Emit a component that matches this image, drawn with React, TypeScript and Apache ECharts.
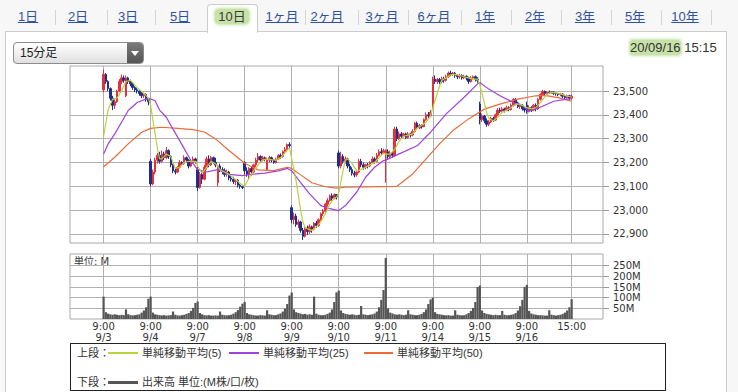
import React, { useEffect, useRef } from 'react';
import * as echarts from 'echarts';

// ---------- data ----------
const dayLabels = ['9/3', '9/4', '9/7', '9/8', '9/9', '9/10', '9/11', '9/14', '9/15', '9/16'];
const barTimes = ['9:00', '9:15', '9:30', '9:45', '10:00', '10:15', '10:30', '10:45', '11:00', '11:15',
  '12:30', '12:45', '13:00', '13:15', '13:30', '13:45', '14:00', '14:15', '14:30', '14:45', '15:00'];
const priceTicks = [22900, 23000, 23100, 23200, 23300, 23400, 23500];
const volumeTicks = [50, 100, 150, 200, 250];

// [open, close, low, high]
const d0903 = [
  [23505, 23570, 23495, 23590], [23570, 23540, 23530, 23575], [23540, 23510, 23500, 23545], [23510, 23470, 23460, 23515],
  [23470, 23440, 23420, 23480], [23440, 23455, 23425, 23465], [23455, 23500, 23450, 23505], [23500, 23540, 23495, 23550],
  [23540, 23555, 23530, 23570], [23555, 23545, 23535, 23565], [23480, 23555, 23475, 23565], [23555, 23540, 23530, 23560],
  [23540, 23530, 23520, 23548], [23530, 23515, 23505, 23535], [23515, 23505, 23495, 23520], [23505, 23500, 23490, 23512],
  [23500, 23490, 23480, 23505], [23490, 23480, 23470, 23498], [23480, 23485, 23470, 23490], [23485, 23465, 23455, 23490],
  [23465, 23455, 23440, 23470],
];
const d0904 = [
  [23205, 23110, 23100, 23215], [23110, 23160, 23105, 23170], [23160, 23210, 23150, 23220], [23210, 23230, 23195, 23240],
  [23230, 23205, 23195, 23245], [23205, 23235, 23200, 23250], [23235, 23220, 23210, 23245], [23220, 23250, 23215, 23265],
  [23250, 23225, 23215, 23255], [23225, 23190, 23180, 23230], [23190, 23165, 23155, 23195], [23165, 23160, 23150, 23175],
  [23160, 23180, 23155, 23185], [23180, 23200, 23175, 23210], [23200, 23195, 23185, 23205], [23195, 23220, 23190, 23230],
  [23220, 23210, 23200, 23225], [23210, 23185, 23175, 23215], [23185, 23200, 23180, 23210], [23200, 23215, 23195, 23225],
  [23215, 23205, 23195, 23220],
];
const d0907 = [
  [23170, 23095, 23080, 23180], [23095, 23150, 23090, 23160], [23150, 23130, 23110, 23165], [23130, 23180, 23125, 23190],
  [23180, 23215, 23170, 23225], [23215, 23190, 23180, 23230], [23190, 23220, 23185, 23228], [23220, 23200, 23195, 23225],
  [23200, 23190, 23180, 23220], [23115, 23185, 23100, 23190], [23185, 23170, 23160, 23195], [23170, 23165, 23150, 23180],
  [23165, 23150, 23140, 23175], [23150, 23160, 23140, 23170], [23160, 23135, 23125, 23165], [23135, 23130, 23120, 23145],
  [23130, 23120, 23110, 23140], [23120, 23125, 23105, 23130], [23125, 23105, 23095, 23130], [23105, 23100, 23090, 23110],
  [23100, 23095, 23088, 23105],
];
const d0908 = [
  [23200, 23165, 23150, 23205], [23165, 23150, 23140, 23180], [23150, 23175, 23130, 23180], [23175, 23160, 23145, 23185],
  [23160, 23190, 23155, 23195], [23190, 23210, 23180, 23220], [23210, 23225, 23200, 23240], [23225, 23210, 23200, 23230],
  [23210, 23220, 23205, 23228], [23220, 23215, 23205, 23225], [23170, 23210, 23165, 23220], [23210, 23220, 23200, 23228],
  [23220, 23210, 23200, 23225], [23210, 23200, 23195, 23215], [23200, 23215, 23195, 23220], [23215, 23230, 23210, 23235],
  [23230, 23225, 23215, 23238], [23225, 23245, 23220, 23250], [23245, 23255, 23240, 23265], [23255, 23275, 23250, 23280],
  [23275, 23270, 23260, 23285],
];
const d0909 = [
  [23010, 22960, 22945, 23020], [22960, 22975, 22940, 22990], [22975, 22940, 22930, 22985], [22940, 22950, 22925, 22960],
  [22950, 22915, 22905, 22955], [22915, 22890, 22875, 22925], [22890, 22925, 22885, 22935], [22925, 22910, 22895, 22935],
  [22910, 22930, 22900, 22940], [22930, 22920, 22905, 22935], [22920, 22945, 22915, 22950], [22945, 22935, 22925, 22955],
  [22935, 22960, 22930, 22965], [22960, 22985, 22955, 22990], [22985, 22995, 22975, 23005], [22995, 23025, 22990, 23030],
  [23025, 23040, 23015, 23050], [23040, 23060, 23035, 23065], [23060, 23050, 23040, 23070], [23050, 23065, 23045, 23070],
  [23065, 23055, 23045, 23068],
];
const d0910 = [
  [23240, 23185, 23175, 23250], [23185, 23225, 23175, 23245], [23225, 23205, 23195, 23235], [23205, 23215, 23195, 23225],
  [23215, 23185, 23175, 23220], [23185, 23170, 23160, 23195], [23170, 23155, 23145, 23180], [23155, 23148, 23138, 23165],
  [23148, 23160, 23140, 23170], [23160, 23205, 23155, 23215], [23205, 23190, 23180, 23215], [23190, 23180, 23170, 23200],
  [23180, 23190, 23172, 23195], [23190, 23185, 23175, 23198], [23185, 23200, 23180, 23205], [23200, 23215, 23195, 23225],
  [23215, 23205, 23195, 23222], [23205, 23230, 23200, 23240], [23230, 23245, 23225, 23255], [23245, 23240, 23230, 23260],
  [23240, 23250, 23235, 23258],
];
const d0911 = [
  [23235, 23250, 23115, 23255], [23245, 23225, 23215, 23255], [23225, 23240, 23215, 23250], [23240, 23230, 23220, 23248],
  [23230, 23340, 23225, 23350], [23340, 23300, 23290, 23350], [23300, 23320, 23295, 23330], [23320, 23310, 23300, 23328],
  [23310, 23320, 23305, 23325], [23320, 23305, 23298, 23325], [23305, 23320, 23300, 23328], [23320, 23315, 23305, 23325],
  [23315, 23330, 23310, 23340], [23330, 23365, 23325, 23370], [23365, 23345, 23338, 23372], [23345, 23355, 23340, 23362],
  [23355, 23350, 23342, 23360], [23350, 23380, 23348, 23385], [23380, 23400, 23375, 23410], [23400, 23395, 23385, 23412],
  [23395, 23410, 23390, 23420],
];
const d0914 = [
  [23432, 23550, 23425, 23560], [23550, 23540, 23530, 23565], [23540, 23548, 23530, 23555], [23548, 23538, 23528, 23555],
  [23538, 23552, 23532, 23560], [23552, 23545, 23535, 23560], [23545, 23560, 23540, 23568], [23560, 23575, 23555, 23582],
  [23575, 23570, 23562, 23585], [23570, 23575, 23563, 23580], [23575, 23565, 23555, 23580], [23565, 23560, 23550, 23570],
  [23560, 23565, 23552, 23572], [23565, 23555, 23548, 23570], [23555, 23562, 23550, 23568], [23562, 23555, 23545, 23566],
  [23555, 23540, 23530, 23560], [23540, 23555, 23535, 23562], [23555, 23560, 23548, 23565], [23560, 23550, 23540, 23565],
  [23550, 23545, 23535, 23558],
];
const d0915 = [
  [23445, 23380, 23360, 23455], [23380, 23395, 23370, 23405], [23395, 23375, 23365, 23400], [23375, 23360, 23350, 23385],
  [23360, 23370, 23352, 23378], [23370, 23385, 23365, 23392], [23385, 23378, 23370, 23392], [23378, 23400, 23375, 23405],
  [23400, 23420, 23395, 23428], [23420, 23415, 23408, 23430], [23415, 23425, 23410, 23432], [23425, 23418, 23410, 23430],
  [23418, 23430, 23415, 23438], [23430, 23422, 23415, 23436], [23422, 23440, 23418, 23448], [23440, 23465, 23435, 23470],
  [23465, 23450, 23440, 23470], [23450, 23435, 23428, 23455], [23435, 23440, 23425, 23448], [23440, 23425, 23418, 23445],
  [23425, 23420, 23410, 23430],
];
const d0916 = [
  [23440, 23415, 23405, 23455], [23415, 23430, 23410, 23440], [23430, 23420, 23412, 23436], [23420, 23440, 23415, 23445],
  [23440, 23425, 23415, 23448], [23425, 23465, 23420, 23470], [23465, 23485, 23460, 23490], [23485, 23498, 23480, 23505],
  [23498, 23490, 23482, 23502], [23490, 23495, 23485, 23500], [23495, 23493, 23488, 23502], [23493, 23496, 23488, 23500],
  [23496, 23490, 23483, 23500], [23490, 23488, 23480, 23495], [23488, 23485, 23478, 23492], [23485, 23487, 23478, 23492],
  [23487, 23478, 23470, 23490], [23478, 23472, 23465, 23484], [23472, 23480, 23468, 23485], [23480, 23470, 23462, 23484],
  [23470, 23478, 23465, 23485],
];

// volume, millions
const v0903 = [105, 32, 25, 22, 20, 22, 20, 18, 20, 18, 45, 22, 18, 17, 18, 20, 22, 30, 40, 55, 95];
const v0904 = [105, 30, 22, 20, 18, 17, 18, 16, 17, 18, 35, 20, 17, 16, 18, 20, 24, 28, 38, 52, 75];
const v0907 = [82, 28, 22, 18, 17, 18, 16, 16, 17, 16, 35, 20, 18, 17, 18, 20, 25, 32, 42, 58, 72];
const v0908 = [80, 28, 22, 20, 18, 17, 16, 18, 17, 16, 41, 22, 20, 18, 18, 22, 26, 35, 48, 70, 110];
const v0909 = [124, 45, 32, 28, 25, 22, 24, 20, 22, 20, 105, 25, 20, 18, 18, 20, 24, 30, 45, 80, 125];
const v0910 = [133, 40, 28, 24, 22, 20, 22, 20, 18, 20, 61, 22, 20, 18, 20, 22, 26, 35, 55, 90, 136];
const v0911 = [286, 50, 30, 26, 22, 20, 22, 20, 18, 20, 41, 22, 20, 18, 18, 20, 24, 32, 45, 70, 92];
const v0914 = [100, 32, 24, 22, 20, 18, 17, 18, 16, 16, 41, 20, 18, 17, 18, 22, 28, 38, 52, 80, 150];
const v0915 = [157, 40, 28, 24, 22, 20, 18, 20, 18, 18, 38, 20, 18, 18, 20, 22, 28, 40, 60, 90, 150];
const v0916 = [160, 38, 26, 22, 20, 18, 18, 17, 16, 16, 41, 20, 18, 16, 18, 20, 24, 30, 40, 55, 93];

// moving averages: [bar number, value]
const ma5Points = [
  [0, 23310], [2, 23420], [4, 23465], [6, 23470], [8, 23500], [10, 23540], [12, 23545], [14, 23525], [16, 23505], [18, 23490], [20, 23470],
  [21, 23440], [22, 23380], [23, 23320], [24, 23260], [25, 23215], [26, 23215], [28, 23235], [30, 23225], [32, 23175], [34, 23180], [36, 23200], [38, 23205], [41, 23205],
  [42, 23185], [44, 23155], [46, 23180], [48, 23205], [50, 23195], [52, 23170], [54, 23160], [56, 23150], [58, 23135], [60, 23120], [62, 23105],
  [63, 23100], [65, 23135], [67, 23165], [69, 23190], [71, 23210], [73, 23215], [75, 23212], [77, 23210], [79, 23220], [81, 23240], [83, 23262],
  [84, 23215], [85, 23170], [86, 23120], [87, 23060], [88, 23000], [89, 22950], [90, 22925], [93, 22915], [95, 22930], [97, 22950], [99, 22985], [101, 23025], [103, 23050], [104, 23055],
  [105, 23070], [106, 23120], [107, 23170], [108, 23210], [109, 23215], [111, 23195], [113, 23165], [115, 23170], [117, 23180], [119, 23190], [121, 23200], [123, 23220], [125, 23240],
  [126, 23235], [128, 23235], [130, 23255], [132, 23290], [134, 23310], [136, 23315], [138, 23320], [140, 23345], [142, 23355], [144, 23370], [146, 23395],
  [147, 23430], [148, 23460], [149, 23490], [150, 23520], [151, 23545], [153, 23555], [155, 23568], [157, 23570], [159, 23565], [161, 23560], [163, 23555], [165, 23550], [167, 23550],
  [168, 23525], [169, 23490], [170, 23450], [171, 23410], [172, 23385], [174, 23375], [176, 23390], [178, 23410], [180, 23420], [182, 23430], [184, 23445], [186, 23445], [188, 23435],
  [189, 23430], [191, 23425], [193, 23430], [195, 23450], [197, 23475], [199, 23492], [201, 23494], [203, 23490], [205, 23485], [207, 23478], [209, 23475],
];
const ma25Points = [
  [0, 23236], [2, 23278], [5, 23320], [8, 23369], [11, 23418], [15, 23452], [20, 23470], [23, 23459], [25, 23420], [28, 23390],
  [31, 23340], [35, 23275], [39, 23208], [42, 23170], [46, 23160], [51, 23170], [56, 23150], [62, 23145], [66, 23150], [72, 23155],
  [78, 23165], [82, 23175], [84, 23165], [88, 23115], [92, 23068], [97, 23019], [101, 23006], [105, 22998], [108, 23019], [113, 23075],
  [117, 23138], [121, 23180], [125, 23208], [126, 23210], [132, 23236], [140, 23270], [146, 23327], [153, 23404], [161, 23474], [167, 23530],
  [168, 23536], [172, 23508], [177, 23480], [183, 23452], [187, 23438], [190, 23415], [195, 23432], [201, 23457], [207, 23466], [209, 23468],
];
const ma50Points = [
  [0, 23182], [5, 23222], [11, 23278], [17, 23327], [21, 23343], [26, 23348], [33, 23343], [40, 23338], [45, 23328], [50, 23299],
  [56, 23250], [63, 23197], [69, 23169], [76, 23166], [82, 23180], [84, 23175], [88, 23148], [93, 23115], [99, 23098], [104, 23092],
  [108, 23096], [131, 23100], [138, 23152], [144, 23215], [150, 23278], [156, 23334], [163, 23383], [170, 23424], [177, 23445], [185, 23466],
  [193, 23480], [197, 23482], [203, 23472], [207, 23462], [209, 23457],
];

// ---------- build ----------
const dayCandles = [d0903, d0904, d0907, d0908, d0909, d0910, d0911, d0914, d0915, d0916];
const dayVolumes = [v0903, v0904, v0907, v0908, v0909, v0910, v0911, v0914, v0915, v0916];
const PAD_L = 15;
const PAD_R = 14;
const PER_DAY = barTimes.length;

const categories: string[] = [];
for (let i = 0; i < PAD_L; i++) categories.push('pre' + i);
dayLabels.forEach((d) => barTimes.forEach((t) => categories.push(d + ' ' + t)));
for (let i = 0; i < PAD_R; i++) categories.push('post' + i);

const candleData: number[][] = [];
const volumeData: number[][] = [];
dayCandles.forEach((bars, di) => bars.forEach((b, bi) => candleData.push([PAD_L + di * PER_DAY + bi, b[0], b[1], b[2], b[3]])));
dayVolumes.forEach((vols, di) => vols.forEach((v, bi) => volumeData.push([PAD_L + di * PER_DAY + bi, v])));
const toLine = (pts: number[][]) => pts.map((p) => [PAD_L + p[0], p[1]]);

const lastIdx = PAD_L + dayLabels.length * PER_DAY - 1;
const tickIdx = new Set<number>();
dayLabels.forEach((_, di) => tickIdx.add(PAD_L + di * PER_DAY));
tickIdx.add(lastIdx);
const isTick = (i: number) => tickIdx.has(i);

const RED = '#e4303c';
const BLUE = '#1f2d8c';
const MA5_C = '#bcd23c';
const MA25_C = '#a042dc';
const MA50_C = '#ea6a3c';
const GRID_C = '#b0b0b0';
const FONT = '"DejaVu Sans", "Noto Sans CJK JP", sans-serif';

const option: any = {
  animation: false,
  backgroundColor: 'transparent',
  textStyle: { fontFamily: FONT },
  grid: [
    { left: 70, top: 66, width: 533, height: 177, show: true, borderColor: '#a8a8a8', borderWidth: 1, backgroundColor: 'transparent' },
    { left: 70, top: 254, width: 533, height: 65, show: true, borderColor: '#a8a8a8', borderWidth: 1, backgroundColor: 'transparent' },
  ],
  xAxis: [
    {
      type: 'category', gridIndex: 0, data: categories, boundaryGap: false,
      axisLine: { show: false }, axisTick: { show: false }, axisLabel: { show: false },
      splitLine: { show: true, interval: isTick, lineStyle: { color: GRID_C, width: 1 } },
    },
    {
      type: 'category', gridIndex: 1, data: categories, boundaryGap: false,
      axisLine: { show: false }, axisTick: { show: false },
      axisLabel: {
        show: true, interval: isTick, margin: 2, fontSize: 10, lineHeight: 11, color: '#333', fontFamily: FONT,
        formatter: (v: string, i: number) => {
          const parts = v.split(' ');
          return i === lastIdx ? parts[1] : parts[1] + '\n' + parts[0];
        },
      },
      splitLine: { show: true, interval: isTick, lineStyle: { color: GRID_C, width: 1 } },
    },
  ],
  yAxis: [
    {
      type: 'value', gridIndex: 0, position: 'right', min: 22862, max: 23605,
      axisLine: { show: false },
      axisTick: { show: true, customValues: priceTicks, length: 6, lineStyle: { color: '#999' } },
      axisLabel: { customValues: priceTicks, margin: 10, fontSize: 10, color: '#333', fontFamily: FONT, formatter: (v: number) => v.toLocaleString('en-US') },
      splitLine: { show: true, lineStyle: { color: GRID_C, width: 1 } },
    },
    {
      type: 'value', gridIndex: 1, position: 'right', min: 0, max: 305,
      axisLine: { show: false },
      axisTick: { show: true, customValues: volumeTicks, length: 6, lineStyle: { color: '#999' } },
      axisLabel: { customValues: volumeTicks, margin: 10, fontSize: 10, color: '#333', fontFamily: FONT, formatter: (v: number) => v + 'M' },
      splitLine: { show: true, lineStyle: { color: GRID_C, width: 1 } },
    },
  ],
  graphic: [
    { type: 'text', left: 74, top: 256, style: { text: '単位: M', fontSize: 10, fill: '#333', fontFamily: FONT } },
  ],
  series: [
    {
      type: 'candlestick', xAxisIndex: 0, yAxisIndex: 0, data: candleData, barWidth: 2,
      encode: { x: 0, y: [1, 2, 3, 4] },
      itemStyle: { color: RED, color0: BLUE, borderColor: RED, borderColor0: BLUE, borderWidth: 1 },
    },
    { type: 'line', xAxisIndex: 0, yAxisIndex: 0, data: toLine(ma50Points), showSymbol: false, symbol: 'none', lineStyle: { color: MA50_C, width: 1.2 }, z: 3 },
    { type: 'line', xAxisIndex: 0, yAxisIndex: 0, data: toLine(ma25Points), showSymbol: false, symbol: 'none', lineStyle: { color: MA25_C, width: 1.2 }, z: 3 },
    { type: 'line', xAxisIndex: 0, yAxisIndex: 0, data: toLine(ma5Points), showSymbol: false, symbol: 'none', lineStyle: { color: MA5_C, width: 1.2 }, z: 4 },
    { type: 'bar', xAxisIndex: 1, yAxisIndex: 1, data: volumeData, barWidth: 2.2, itemStyle: { color: '#555555' } },
  ],
};

const tabLabels = ['1日', '2日', '3日', '5日', '10日', '1ヶ月', '2ヶ月', '3ヶ月', '6ヶ月', '1年', '2年', '3年', '5年', '10年'];
const tabCenters = [28, 78, 128, 180, 232, 282, 327, 382, 434, 485, 535, 585, 635, 685];
const sepX = [55, 107, 155, 305, 358, 408, 461, 511, 561, 611, 661, 711];
const UI_FONT = '"Liberation Sans", "Noto Sans CJK JP", sans-serif';

export default function App() {
  const ref = useRef<HTMLDivElement>(null);
  useEffect(() => {
    const chart = echarts.init(ref.current as HTMLDivElement, null, { renderer: 'svg' });
    chart.setOption(option);
    return () => chart.dispose();
  }, []);

  const legendText: React.CSSProperties = { position: 'absolute', fontSize: 11, color: '#333', lineHeight: '14px', whiteSpace: 'nowrap' };

  return (
    <div style={{ position: 'fixed', left: 0, top: 0, width: 738, height: 392, background: '#f7f7f7', overflow: 'hidden', fontFamily: UI_FONT }}>
      {/* panel */}
      <div style={{ position: 'absolute', left: 5, top: 31, width: 722, height: 420, background: '#fff', border: '1px solid #cdcdcd', boxSizing: 'border-box' }} />
      {/* selected tab */}
      <div style={{ position: 'absolute', left: 207, top: 4, width: 51, height: 29, background: '#fff', border: '1px solid #cdcdcd', borderBottom: 'none', borderRadius: '4px 4px 0 0', boxSizing: 'border-box' }} />
      {sepX.map((x, i) => (
        <div key={'s' + i} style={{ position: 'absolute', left: x, top: 10, width: 1, height: 15, background: '#d4d4d4' }} />
      ))}
      {tabLabels.map((t, i) => {
        const sel = t === '10日';
        return (
          <div key={t} style={{ position: 'absolute', left: tabCenters[i] - 30, top: 9, width: 60, textAlign: 'center', fontSize: 13, lineHeight: '16px' }}>
            {sel ? (
              <span style={{ color: '#3a3a3a', background: '#c6e2a8', borderRadius: 4, padding: '0 3px', boxShadow: '0 0 3px 1px #c6e2a8' }}>{t}</span>
            ) : (
              <span style={{ color: '#2f52a0', textDecoration: 'underline' }}>{t}</span>
            )}
          </div>
        );
      })}
      {/* dropdown */}
      <div style={{ position: 'absolute', left: 13, top: 42, width: 131, height: 22, border: '1px solid #8c8c8c', borderRadius: 4, background: 'linear-gradient(#ffffff, #e0e0e0)', boxSizing: 'border-box', overflow: 'hidden' }}>
        <span style={{ position: 'absolute', left: 6, top: 3, fontSize: 12, lineHeight: '14px', color: '#222' }}>15分足</span>
        <div style={{ position: 'absolute', right: 0, top: 0, width: 16, height: 20, background: 'linear-gradient(#7a7a7a, #555)' }}>
          <div style={{ position: 'absolute', left: 4, top: 8, width: 0, height: 0, borderLeft: '4px solid transparent', borderRight: '4px solid transparent', borderTop: '5px solid #fff' }} />
        </div>
      </div>
      {/* date */}
      <div style={{ position: 'absolute', left: 630, top: 40, fontSize: 13, lineHeight: '16px', color: '#333', whiteSpace: 'nowrap' }}>
        <span style={{ background: '#c6e2a8', borderRadius: 3, boxShadow: '0 0 3px 1px #c6e2a8' }}>20/09/16</span> 15:15
      </div>
      {/* legend box */}
      <div style={{ position: 'absolute', left: 70, top: 343, width: 596, height: 48, border: '1px solid #222', background: '#fff', boxSizing: 'border-box' }}>
        <span style={{ ...legendText, left: 6, top: 2 }}>上段：</span>
        <div style={{ position: 'absolute', left: 37, top: 8, width: 30, height: 2, background: MA5_C }} />
        <span style={{ ...legendText, left: 71, top: 2 }}>単純移動平均(5)</span>
        <div style={{ position: 'absolute', left: 158, top: 8, width: 30, height: 2, background: MA25_C }} />
        <span style={{ ...legendText, left: 192, top: 2 }}>単純移動平均(25)</span>
        <div style={{ position: 'absolute', left: 293, top: 8, width: 29, height: 2, background: MA50_C }} />
        <span style={{ ...legendText, left: 326, top: 2 }}>単純移動平均(50)</span>
        <span style={{ ...legendText, left: 6, top: 31 }}>下段：</span>
        <div style={{ position: 'absolute', left: 37, top: 37, width: 30, height: 3, background: '#555555' }} />
        <span style={{ ...legendText, left: 71, top: 31 }}>出来高 単位:(M株/口/枚)</span>
      </div>
      {/* chart */}
      <div ref={ref} style={{ position: 'absolute', left: 0, top: 0, width: 738, height: 392 }} />
    </div>
  );
}
